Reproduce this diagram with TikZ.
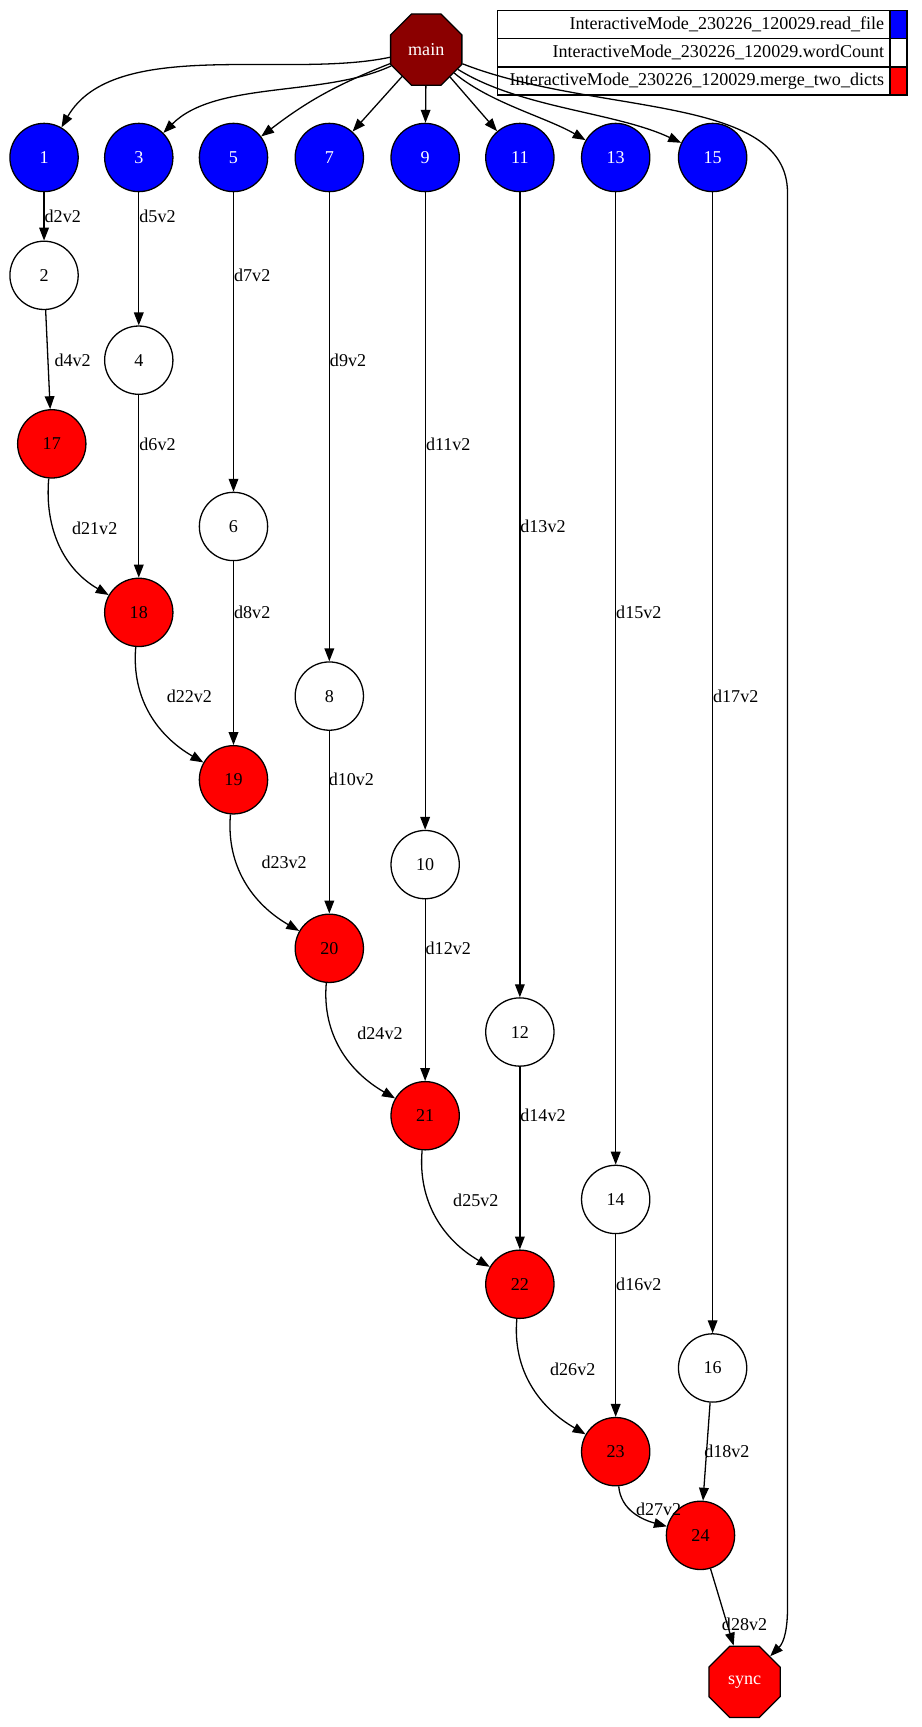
\documentclass[tikz,border=0pt]{standalone}
\usepackage{fontspec}
\setmainfont{Liberation Serif}
\usetikzlibrary{arrows.meta,shapes.geometric}
\definecolor{mainred}{HTML}{8B0000}
\begin{document}
\begin{tikzpicture}[%
    x=0.03cm, y=-0.03cm,
    >={Triangle[length=10pt,width=7.5pt]},
    line width=1pt,
    font=\fontsize{14}{16}\selectfont,
    task/.style={circle, draw, minimum size=1.86cm, inner sep=0pt},
    readf/.style={task, fill=blue, text=white},
    wordc/.style={task, fill=white},
    merge/.style={task, fill=red},
    octa/.style={regular polygon, regular polygon sides=8, draw, minimum size=2.1cm, inner sep=0pt, text=white},
    lbl/.style={inner sep=1pt},
    legrow/.style={draw, minimum width=10.68cm, minimum height=0.765cm, anchor=east, inner sep=2pt, align=right, text width=10.4cm},
    legcol/.style={draw, minimum width=0.45cm, minimum height=0.765cm, anchor=west, inner sep=0pt}
  ]
    \useasboundingbox (0,0) rectangle (837,1568);

    % legend
    \node[legrow] (l1) at (808,22.5) {InteractiveMode\_230226\_120029.read\_file};
    \node[legrow] (l2) at (808,48) {InteractiveMode\_230226\_120029.wordCount};
    \node[legrow] (l3) at (808,73.5) {InteractiveMode\_230226\_120029.merge\_two\_dicts};
    \node[legcol, fill=blue] at (l1.east) {};
    \node[legcol, fill=white] at (l2.east) {};
    \node[legcol, fill=red] at (l3.east) {};

    \node[octa, fill=mainred] (main) at (387,45) {main};
    \node[octa, fill=red] (sync) at (676,1527) {sync};

    \foreach \n/\x in {1/40,3/126,5/212,7/299,9/386,11/472,13/559,15/647}
      \node[readf] (n\n) at (\x,143) {\n};

    \foreach \n/\x/\y in {2/40/250,4/126/327,6/212/478,8/299/632,10/386/785,12/472/937,14/559/1089,16/647/1242}
      \node[wordc] (n\n) at (\x,\y) {\n};

    \foreach \n/\x/\y in {17/47/403,18/126/556,19/212/708,20/299/861,21/386/1013,22/472/1166,23/559/1318,24/636/1394}
      \node[merge] (n\n) at (\x,\y) {\n};

    \coordinate (c1) at (715,175);
    \coordinate (c2) at (715,1460);

    \draw[->] (main) to[out=192,in=60,looseness=0.8] (n1);
    \draw[->] (main) to[out=205,in=45,looseness=0.8] (n3);
    \draw[->] (main) to[bend right=8] (n5);
    \draw[->] (main) -- (n7);
    \draw[->] (main) -- (n9);
    \draw[->] (main) -- (n11);
    \draw[->] (main) to[out=-40,in=150,looseness=0.8] (n13);
    \draw[->] (main) to[out=-32,in=155,looseness=0.8] (n15);
    \draw[->] (main) .. controls (540,105) and (715,85) .. (c1) -- (c2) to[out=-90,in=45] (sync.north east);

    \foreach \a/\b in {1/2,2/17,3/4,4/18,5/6,6/19,7/8,8/20,9/10,10/21,11/12,12/22,13/14,14/23,15/16,16/24}
      \draw[->] (n\a) -- (n\b);
    \foreach \a/\b in {17/18,18/19,19/20,20/21,21/22,22/23}
      \draw[->] (n\a) to[out=-95,in=150] (n\b);
    \draw[->] (n23) to[out=-85,in=165] (n24);
    \draw[->] (n24) -- (sync);

    % edge labels
    \foreach \t/\x/\y in {d2v2/57/196,d4v2/66/327,d5v2/143/196,d6v2/143/403,d7v2/229/250,d8v2/229/556,
      d9v2/316/327,d10v2/319/708,d11v2/407/403,d12v2/407/861,d13v2/493/478,d14v2/493/1013,
      d15v2/580/556,d16v2/580/1166,d17v2/668/632,d18v2/660/1318,d21v2/86/480,d22v2/172/632,
      d23v2/258/783,d24v2/345/938,d25v2/432/1090,d26v2/520/1243,d27v2/598/1370,d28v2/676/1475}
      \node[lbl] at (\x,\y) {\t};
  \end{tikzpicture}
\end{document}
